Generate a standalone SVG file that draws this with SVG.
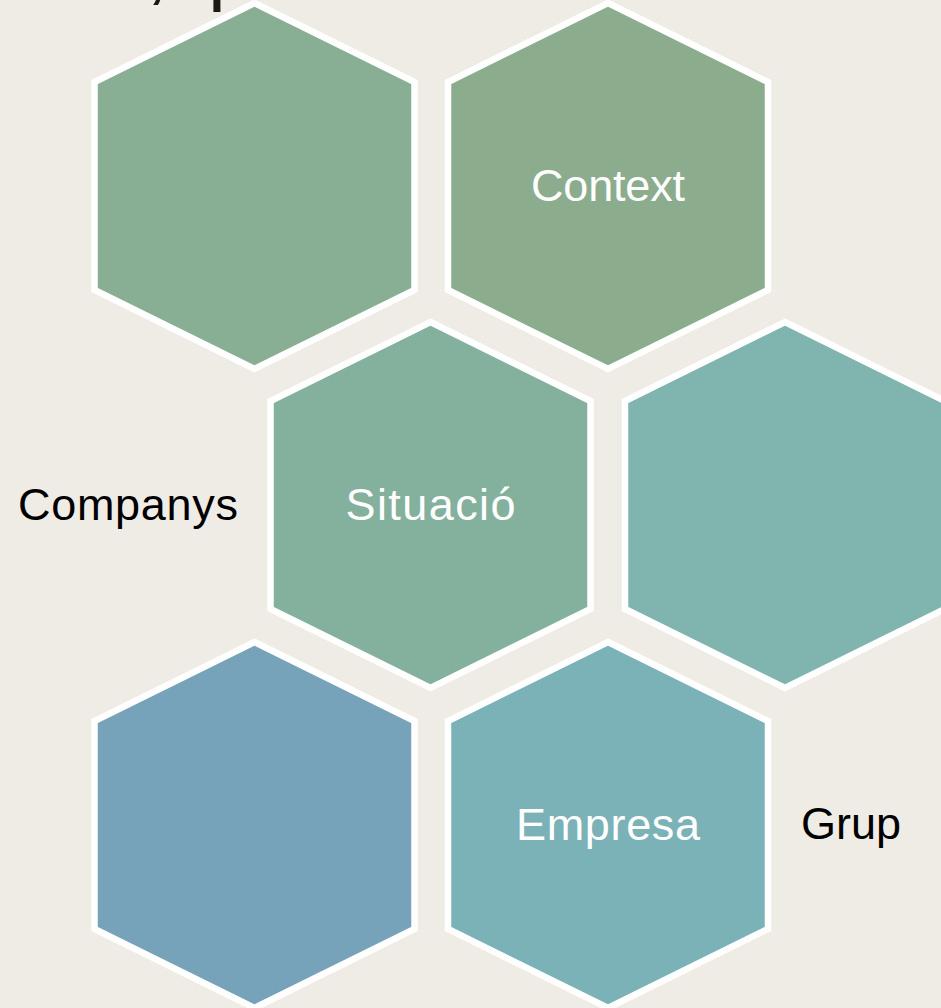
<svg xmlns="http://www.w3.org/2000/svg" width="941" height="1008" viewBox="0 0 941 1008">
  <style>
    .hex { stroke: #FFFFFF; stroke-width: 6.5; stroke-linejoin: miter; }
    .lbl { font-family: "Liberation Sans", Arial, sans-serif; font-size: 45px; }
    .in { fill: #FFFFFF; text-anchor: middle; }
    .out { fill: #000000; }
    .title { font-family: "Liberation Sans", Arial, sans-serif; font-size: 80px; fill: #1A1A12; }
  </style>
  <defs>
    <polygon id="hx" points="0,-183 160,-104 160,104 0,183 -160,104 -160,-104"/>
  </defs>
  <rect x="0" y="0" width="941" height="1008" fill="#EFECE5"/>
  <text class="title" x="146 208" y="-5">,p</text>
  <g id="hex1">
    <use href="#hx" class="hex" x="254.5" y="186" fill="#88AE93"/>
  </g>
  <g id="hex2">
    <use href="#hx" class="hex" x="608" y="186" fill="#8CAC8E"/>
    <text class="lbl in" x="608" y="201" textLength="154">Context</text>
  </g>
  <g id="hex3">
    <use href="#hx" class="hex" x="430.5" y="505" fill="#84B19D"/>
    <text class="lbl in" x="430.5" y="520" textLength="170">Situació</text>
  </g>
  <g id="hex4">
    <use href="#hx" class="hex" x="785" y="505" fill="#80B4AF"/>
  </g>
  <g id="hex5">
    <use href="#hx" class="hex" x="254.5" y="825" fill="#76A2BA"/>
  </g>
  <g id="hex6">
    <use href="#hx" class="hex" x="608" y="825" fill="#7BB2B7"/>
    <text class="lbl in" x="608" y="840" textLength="184">Empresa</text>
  </g>
  <g id="label-companys">
    <text class="lbl out" x="18" y="520" textLength="220">Companys</text>
  </g>
  <g id="label-grup">
    <text class="lbl out" x="801" y="839" font-size="42">Grup</text>
  </g>
  <g id="connectors"></g>
</svg>
